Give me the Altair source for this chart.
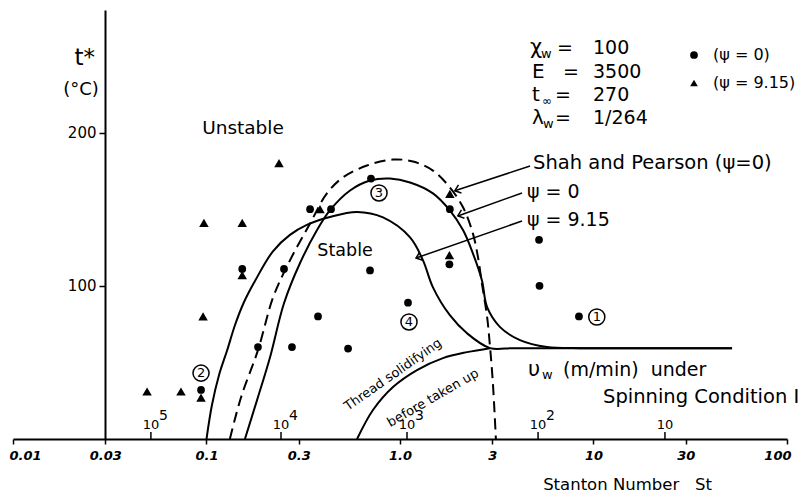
import altair as alt
import pandas as pd

FONT = "DejaVu Sans"

# ---- measured points ---------------------------------------------------
circle_st = [0.0937, 0.153, 0.1845, 0.2515, 0.2765, 0.343, 0.377, 0.440, 0.539,
             0.70, 0.708, 1.10, 1.80, 1.81, 5.23, 5.26, 8.41]
circle_t = [32, 111, 60, 111, 60, 150, 80, 150, 59,
            110, 170, 89, 114, 150, 130, 100, 80]

triangle_st = [0.0493, 0.0738, 0.0937, 0.096, 0.097, 0.153, 0.153, 0.237, 0.386, 1.80, 1.81]
triangle_t = [31, 31, 27, 80, 141, 141, 107, 180, 150, 120, 160]

series_names = ["(ψ = 0)", "(ψ = 9.15)"]

# ---- stability boundaries ----------------------------------------------
psi0_st = [0.158, 0.1825, 0.213, 0.2515, 0.304, 0.372, 0.434, 0.552, 0.70, 0.887,
           1.127, 1.48, 1.81, 2.12, 2.38, 2.65, 2.82, 3.29, 4.17, 5.75, 8.5,
           13, 20, 32, 52]
psi0_t = [0, 25.4, 53.4, 88.6, 114.7, 136.2, 149.2, 162.2, 168.7, 170,
          167.4, 160.3, 149.2, 136.2, 121.2, 103.6, 86, 73, 64.5, 60, 59.3,
          59.3, 59.3, 59.3, 59.3]

psi915_st = [0.1, 0.1067, 0.1161, 0.128, 0.1404, 0.1563, 0.178, 0.221, 0.270, 0.330,
             0.434, 0.600, 0.817, 1.127, 1.315, 1.48, 1.81, 2.22, 2.92,
             3.8, 5, 8, 13, 20, 32, 52]
psi915_t = [0, 22.2, 41.8, 58.1, 74.4, 89.4, 103.1, 122.7, 133.2, 139.7,
            144.9, 148.2, 144.6, 131.6, 116.6, 99, 80.8, 69, 59.3,
            59.3, 59.3, 59.3, 59.3, 59.3, 59.3, 59.3]

shah_st = [0.132, 0.151, 0.1845, 0.221, 0.27, 0.343, 0.419, 0.507, 0.675, 0.92, 1.167,
           1.48, 1.81, 2.12, 2.38, 2.53, 2.65, 2.82, 2.92, 3.02, 3.13]
shah_t = [0, 27.4, 58, 92.5, 116.6, 140.7, 160.3, 170.7, 178.5, 182.4, 181.1,
          175.2, 164.2, 151.1, 134.2, 118.6, 101.6, 79.5, 60, 36.5, 0]

solidify_st = [0.6, 0.725, 0.92, 1.224, 1.667, 2.22, 2.92]
solidify_t = [0, 18.9, 33.9, 45, 52.8, 56.7, 59.3]

# ---- take-up velocity scale vw (m/min) under spinning condition I ---------
vw_st = [0.0516, 0.2427, 1.087, 5.17, 23.4]
vw_base = ["10", "10", "10", "10", "10"]
vw_exp = ["5", "4", "3", "2", ""]

# ---- axes ----------------------------------------------------------------
x_ticks = [0.01, 0.03, 0.1, 0.3, 1, 3, 10, 30, 100]
x_tick_labels = ["0.01", "0.03", "0.1", "0.3", "1.0", "3", "10", "30", "100"]
y_ticks = [100, 200]

label_expr = " : ".join(f"datum.value == {v} ? '{l}'" for v, l in zip(x_ticks, x_tick_labels)) + " : ''"

xs = alt.Scale(type="log", domain=[0.01, 100])
ys = alt.Scale(domain=[0, 280], nice=False)

x_axis = alt.Axis(values=x_ticks, labelExpr=label_expr, grid=False,
                  title="Stanton Number\u00a0\u00a0\u00a0St", titleFont=FONT, titleFontSize=16.5,
                  titleFontWeight="normal", titleColor="black", titleX=614, titleY=37,
                  titleAlign="center", titleBaseline="top",
                  labelFont=FONT, labelFontSize=13, labelFontWeight="bold",
                  labelFontStyle="italic", labelColor="black", labelPadding=5,
                  labelFlush=True, labelFlushOffset=4,
                  tickSize=5, tickColor="black", tickWidth=1.5,
                  domainColor="black", domainWidth=2)
y_axis = alt.Axis(values=y_ticks, offset=-92, grid=False, title=None,
                  labelFont=FONT, labelFontSize=15, labelColor="black", labelPadding=3,
                  tickSize=6, tickColor="black", tickWidth=1.5,
                  domainColor="black", domainWidth=2)


def X(field="st"):
    return alt.X(f"{field}:Q", scale=xs, axis=x_axis)


def Y(field="t"):
    return alt.Y(f"{field}:Q", scale=ys, axis=y_axis)


# ---- tables --------------------------------------------------------------
circles = pd.DataFrame({"st": circle_st, "t": circle_t, "series": series_names[0]})
triangles = pd.DataFrame({"st": triangle_st, "t": triangle_t, "series": series_names[1]})


def curve(st, t, name):
    return pd.DataFrame({"st": st, "t": t, "curve": name, "order": range(len(st))})


solid_curves = pd.concat([
    curve(psi0_st, psi0_t, "psi0"),
    curve(psi915_st, psi915_t, "psi915"),
    curve(solidify_st, solidify_t, "solidify"),
])
shah_curve = curve(shah_st, shah_t, "shah")

# leader arrows from the curve labels
arrows = pd.DataFrame({
    "st": [4.70, 4.27, 4.27],
    "t": [178.2, 160.6, 142.3],
    "st2": [1.92, 1.99, 1.21],
    "t2": [162.0, 145.6, 118.1],
})

vw_ticks = pd.DataFrame({"st": vw_st, "t": [0] * 5, "t2": [4.5] * 5,
                         "base": vw_base, "exp": vw_exp})

left_text = pd.DataFrame([
    ("Shah and Pearson (ψ=0)", 4.87, 180.2, 19.5),
    ("ψ = 0", 4.53, 161.2, 19),
    ("ψ = 9.15", 4.53, 143.0, 19),
    ("υ", 4.59, 45.0, 21),
    ("w", 5.42, 41.5, 13),
    ("(m/min)\u00a0\u00a0under", 6.96, 45.0, 19),
    ("Spinning Condition I", 11.2, 27.4, 19.5),
    ("χ", 4.70, 255.2, 21),
    ("w", 5.36, 251.5, 13),
    ("=", 6.48, 255.2, 19),
    ("100", 9.94, 255.2, 19),
    ("E", 4.81, 239.6, 20),
    ("=", 6.96, 239.6, 19),
    ("3500", 9.94, 239.6, 19),
    ("t", 4.81, 224.5, 20),
    ("∞", 5.42, 220.8, 12),
    ("=", 6.33, 224.5, 19),
    ("270", 9.94, 224.5, 19),
    ("λ", 4.81, 209.5, 20),
    ("w", 5.49, 205.8, 13),
    ("=", 6.33, 209.5, 19),
    ("1/264", 9.94, 209.5, 19),
], columns=["text", "st", "t", "size"])

center_text = pd.DataFrame([
    ("Unstable", 0.1544, 203.0, 18.5, 0),
    ("Stable", 0.52, 122.7, 17.5, 0),
    ("t*", 0.0235, 248.7, 23, 0),
    ("(°C)", 0.02245, 227.8, 18, 0),
    ("Thread solidifying", 0.92, 42.0, 13, 325),
    ("before taken up", 1.48, 26.8, 13, 330),
], columns=["text", "st", "t", "size", "angle"])

regions = pd.DataFrame({"st": [10.4, 0.0937, 0.779, 1.113],
                        "t": [79.6, 43.0, 160.6, 76.4],
                        "text": ["1", "2", "3", "4"]})

# ---- layers --------------------------------------------------------------
solid_lines = alt.Chart(solid_curves).mark_line(
    color="black", strokeWidth=2, interpolate="catmull-rom"
).encode(x=X(), y=Y(), detail="curve:N", order="order:Q")

dashed_line = alt.Chart(shah_curve).mark_line(
    color="black", strokeWidth=2, strokeDash=[11, 6], interpolate="catmull-rom"
).encode(x=X(), y=Y(), order="order:Q")

shape_enc = alt.Shape(
    "series:N",
    scale=alt.Scale(domain=series_names, range=["circle", "triangle-up"]),
    legend=alt.Legend(orient="none", legendX=673, legendY=37, title=None,
                      labelFont=FONT, labelFontSize=16, labelColor="black",
                      symbolSize=60, symbolFillColor="black",
                      symbolStrokeColor="black", rowPadding=12,
                      labelOffset=11, padding=0),
)

circle_layer = alt.Chart(circles).mark_point(
    filled=True, color="black", size=60, opacity=1
).encode(x=X(), y=Y(), shape=shape_enc)

triangle_layer = alt.Chart(triangles).mark_point(
    filled=True, color="black", size=90, opacity=1
).encode(x=X(), y=Y(), shape=shape_enc)

arrow_lines = alt.Chart(arrows).mark_rule(color="black", strokeWidth=1.5).encode(
    x=X(), y=Y(), x2="st2:Q", y2="t2:Q")
arrow_heads = alt.Chart(arrows).mark_point(
    shape="M -1 -0.8 L 0 0 L -1 0.8", filled=False, color="black",
    strokeWidth=1.5, size=120, angle=160, opacity=1
).encode(x=X("st2"), y=Y("t2"))

vw_rules = alt.Chart(vw_ticks).mark_rule(color="black", strokeWidth=1.5).encode(
    x=X(), y=Y(), y2="t2:Q")
vw_base_text = alt.Chart(vw_ticks).mark_text(
    font=FONT, fontSize=13, color="black", baseline="middle", align="center", dy=-14
).encode(x=X(), y=Y(), text="base:N")
vw_exp_text = alt.Chart(vw_ticks).mark_text(
    font=FONT, fontSize=14, color="black", baseline="middle", align="left", dx=8, dy=-23
).encode(x=X(), y=Y(), text="exp:N")

left_layer = alt.Chart(left_text).mark_text(
    font=FONT, color="black", align="left", baseline="middle"
).encode(x=X(), y=Y(), text="text:N", size=alt.Size("size:Q", scale=None))

center_layer = alt.Chart(center_text).mark_text(
    font=FONT, color="black", align="center", baseline="middle"
).encode(x=X(), y=Y(), text="text:N",
         size=alt.Size("size:Q", scale=None), angle=alt.Angle("angle:Q", scale=None))

region_rings = alt.Chart(regions).mark_point(
    shape="circle", filled=False, color="black", strokeWidth=1.5, size=260, opacity=1
).encode(x=X(), y=Y())
region_digits = alt.Chart(regions).mark_text(
    font=FONT, fontSize=13, color="black", align="center", baseline="middle"
).encode(x=X(), y=Y(), text="text:N")

chart = alt.layer(
    solid_lines, dashed_line, arrow_lines, arrow_heads, circle_layer, triangle_layer,
    vw_rules, vw_base_text, vw_exp_text, left_layer, center_layer,
    region_rings, region_digits,
).properties(
    width=774, height=429,
    autosize=alt.AutoSizeParams(type="none"),
    padding={"left": 13, "right": 14, "top": 10, "bottom": 60},
    background="white",
).configure_view(strokeWidth=0)

chart.save("out.html", embed_options={"renderer": "svg", "actions": False})
